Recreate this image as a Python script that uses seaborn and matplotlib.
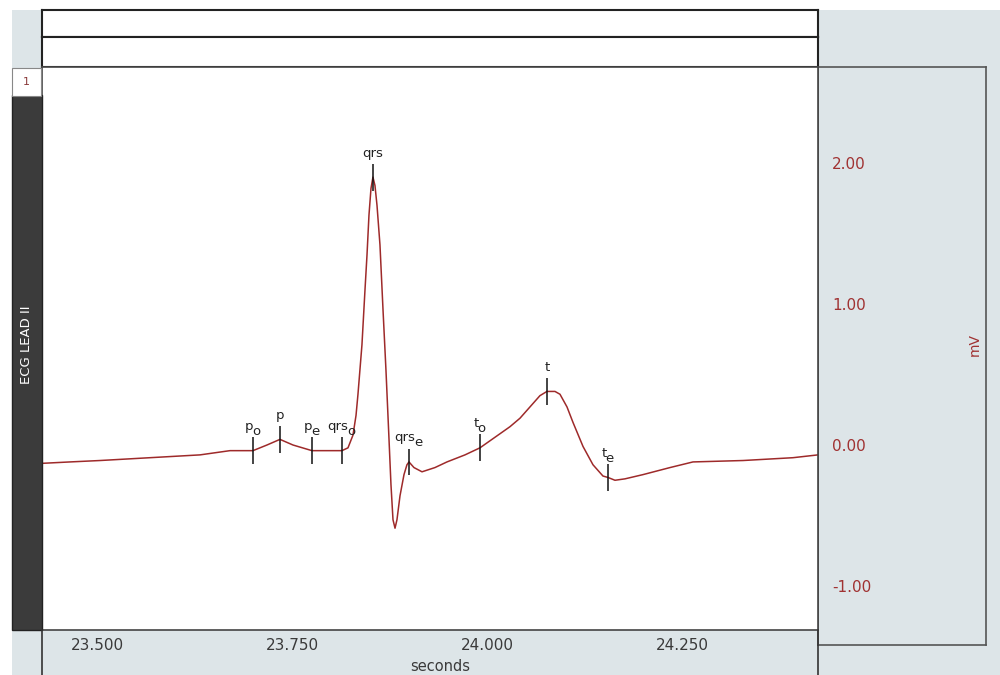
import matplotlib
matplotlib.use("Agg")
import matplotlib.pyplot as plt
import seaborn as sns
import pandas as pd
from matplotlib.patches import Rectangle
from matplotlib.lines import Line2D

# ECG trace (seconds, mV)
time_s = [23.4295, 23.4654, 23.5038, 23.5679, 23.6321, 23.6705, 23.7000, 23.7179,
          23.7346, 23.7513, 23.7756, 23.7949, 23.8141, 23.8218, 23.8282, 23.8321,
          23.8346, 23.8397, 23.8436, 23.8462, 23.8487, 23.8513, 23.8538, 23.8564,
          23.8590, 23.8628, 23.8667, 23.8705, 23.8744, 23.8769, 23.8795, 23.8821,
          23.8846, 23.8885, 23.8936, 23.8974, 23.9000, 23.9064, 23.9167, 23.9333,
          23.9487, 23.9718, 23.9910, 24.0167, 24.0295, 24.0423, 24.0551, 24.0679,
          24.0769, 24.0872, 24.0936, 24.1026, 24.1103, 24.1231, 24.1359, 24.1487,
          24.1551, 24.1641, 24.1769, 24.2000, 24.2346, 24.2641, 24.3282, 24.3923,
          24.4244]
lead_mv = [-0.13, -0.12, -0.11, -0.09, -0.07, -0.04, -0.04, 0.00,
           0.04, 0.00, -0.04, -0.04, -0.04, -0.02, 0.07, 0.21,
           0.36, 0.71, 1.10, 1.35, 1.63, 1.82, 1.90, 1.84,
           1.70, 1.42, 0.96, 0.53, 0.04, -0.28, -0.53, -0.59,
           -0.53, -0.36, -0.21, -0.14, -0.12, -0.16, -0.19, -0.16,
           -0.12, -0.07, -0.02, 0.08, 0.13, 0.19, 0.27, 0.35,
           0.38, 0.38, 0.36, 0.27, 0.16, -0.01, -0.14, -0.22,
           -0.23, -0.25, -0.24, -0.21, -0.16, -0.12, -0.11, -0.09,
           -0.07]

# fiducial markers: base label, subscript, time, value
mark_base = ["p", "p", "p", "qrs", "qrs", "qrs", "t", "t", "t"]
mark_sub = ["o", "", "e", "o", "", "e", "o", "", "e"]
mark_time = [23.7000, 23.7346, 23.7756, 23.8141, 23.8538, 23.9000, 23.9910, 24.0769, 24.1551]
mark_mv = [-0.04, 0.04, -0.04, -0.04, 1.90, -0.12, -0.02, 0.38, -0.23]

x_ticks = [23.5, 23.75, 24.0, 24.25]
y_ticks = [-1.0, 0.0, 1.0, 2.0]

df = pd.DataFrame({"seconds": time_s, "mV": lead_mv})

sns.set_theme(style="white")
plt.rcParams["font.family"] = ["DejaVu Sans"]

W, H = 1000, 675
bg = "#dde5e8"
red = "#a03232"
trace_red = "#9e2a2a"


def box(x0, y0, x1, y1):
    return [x0 / W, 1 - y1 / H, (x1 - x0) / W, (y1 - y0) / H]


fig = plt.figure(figsize=(10, 6.75), dpi=100, facecolor="white")

# grey window background
fig.patches.append(Rectangle((12 / W, 0), 1, 1 - 10 / H, transform=fig.transFigure,
                             facecolor=bg, edgecolor="none", zorder=-10))

# two empty header boxes
for y0, y1 in [(10, 37), (37, 67)]:
    hax = fig.add_axes(box(42, y0, 818, y1))
    hax.set_facecolor("white")
    hax.set_xticks([])
    hax.set_yticks([])
    for s in hax.spines.values():
        s.set_color("#222222")
        s.set_linewidth(1.5)

# right scale panel
rax = fig.add_axes(box(818, 67, 986, 645))
rax.set_facecolor(bg)
rax.set_xticks([])
rax.set_yticks([])
for s in rax.spines.values():
    s.set_color("#555555")
    s.set_linewidth(1.2)

# channel strip on the left
fig.patches.append(Rectangle((12 / W, 1 - 630 / H), 30 / W, 535 / H, transform=fig.transFigure,
                             facecolor="#3b3b3b", edgecolor="#222222", zorder=1))
fig.patches.append(Rectangle((12 / W, 1 - 96 / H), 29 / W, 28 / H, transform=fig.transFigure,
                             facecolor="white", edgecolor="#888888", lw=0.8, zorder=1))
fig.text(26 / W, 1 - 82 / H, "1", color="#8a3a3a", fontsize=8, ha="center", va="center")
fig.text(27 / W, 1 - 345 / H, "ECG LEAD II", color="white", fontsize=9.5,
         rotation=90, ha="center", va="center")

# main plot
ax = fig.add_axes(box(42, 67, 818, 630))
ax.set_facecolor("white")
sns.lineplot(data=df, x="seconds", y="mV", ax=ax, color=trace_red, lw=1.1,
             estimator=None, sort=False)
ax.vlines(mark_time, [m - 0.095 for m in mark_mv], [m + 0.095 for m in mark_mv],
          color="#111111", lw=1.1, zorder=3)
for base, sub, t, m in zip(mark_base, mark_sub, mark_time, mark_mv):
    shift = -3 if sub else 0
    txt = ax.annotate(base, (t, m + 0.095), xytext=(shift, 3), textcoords="offset points",
                      ha="center", va="bottom", fontsize=9.5, color="#222222")
    if sub:
        ax.annotate(sub, xy=(1, 0.12), xycoords=txt, xytext=(-0.8, 0), textcoords="offset points",
                    ha="left", va="center", fontsize=9.5, color="#222222")

ax.set_xlim(23.4295, 24.4244)
ax.set_ylim(-1.312, 2.681)
ax.set_xticks(x_ticks)
ax.set_xticklabels([f"{v:.3f}" for v in x_ticks])
ax.set_yticks(y_ticks)
ax.set_yticklabels([f"{v:.2f}" for v in y_ticks])
ax.yaxis.tick_right()
ax.tick_params(axis="y", length=0, pad=10, labelsize=11, labelcolor=red)
ax.tick_params(axis="x", length=0, pad=6, labelsize=11, labelcolor="#3a3a3a")
for lab in ax.get_yticklabels():
    lab.set_horizontalalignment("left")
ax.set_xlabel("")
ax.set_ylabel("")
for s in ax.spines.values():
    s.set_color("#444444")
    s.set_linewidth(1.2)

fig.text(440 / W, 1 - 659 / H, "seconds", color="#3a3a3a", fontsize=10.5, ha="center", va="top")
fig.text(975 / W, 1 - 345 / H, "mV", color=red, fontsize=10, rotation=90, ha="center", va="center")

# frame lines of the time strip
for xp in (42, 818):
    fig.add_artist(Line2D([xp / W, xp / W], [0, 1 - 630 / H], transform=fig.transFigure,
                          color="#333333", lw=1.2))

fig.savefig("out.png", dpi=100, facecolor="white")
